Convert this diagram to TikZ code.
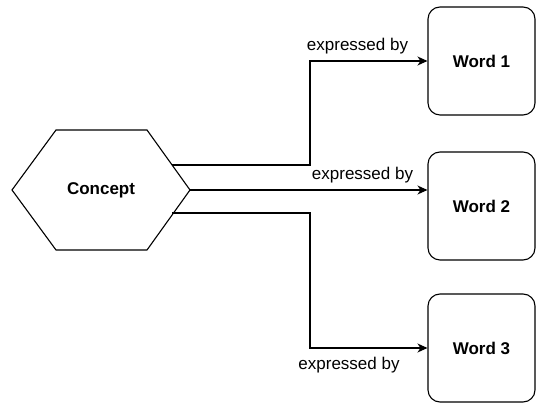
\documentclass[tikz,border=0pt]{standalone}
\usepackage{fontspec}
\setmainfont{Liberation Sans}
\usepackage{tikz}
\usetikzlibrary{arrows.meta}

\begin{document}
\begin{tikzpicture}[x=1pt,y=1pt,
  line width=1.1pt,
  word/.style={draw, rounded corners=12pt, minimum width=107pt, minimum height=108pt, font=\fontsize{17}{20}\selectfont\bfseries},
  lbl/.style={font=\fontsize{17}{20}\selectfont},
  link/.style={-{Stealth[length=10pt,width=9pt,inset=3pt]}}]
\useasboundingbox (0,0) rectangle (537,403);
% concept hexagon
\draw (12,213) -- (56,273) -- (147,273) -- (190,213) -- (147,153) -- (56,153) -- cycle;
\node[font=\fontsize{17}{20}\selectfont\bfseries] (concept) at (101,213) {Concept};
\coordinate (c1) at (172,238);
\coordinate (c2) at (190,213);
\coordinate (c3) at (172,190);
% words
\node[word] (w1) at (481.5,342) {Word 1};
\node[word] (w2) at (481.5,197) {Word 2};
\node[word] (w3) at (481.5,55) {Word 3};
% connectors
\draw[link] (c1) -- ++(138,0) |- (w1.west);
\draw[link] (c2) -- (w2.west |- c2);
\draw[link] (c3) -- ++(138,0) |- (w3.west);
\node[lbl] (l1) at (357.5,357) {expressed by};
\node[lbl] (l2) at (362.5,228) {expressed by};
\node[lbl] (l3) at (349,38) {expressed by};
\end{tikzpicture}
\end{document}
